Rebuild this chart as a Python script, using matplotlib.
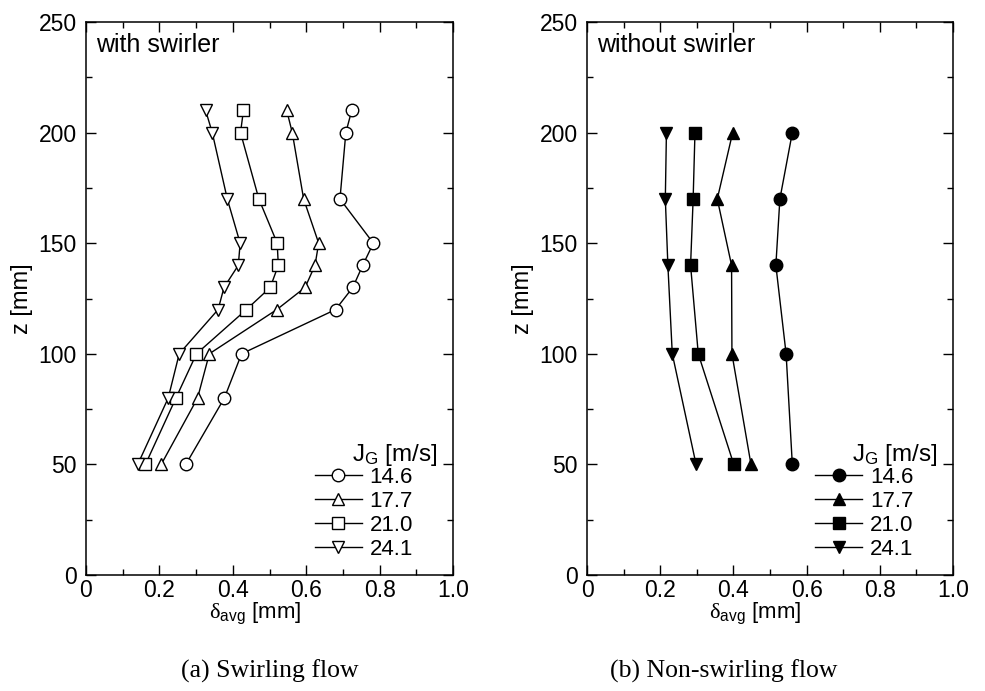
import numpy as np
import matplotlib
matplotlib.use("Agg")
import matplotlib.pyplot as plt
from matplotlib.ticker import MultipleLocator

plt.rcParams['font.family'] = ['Liberation Sans', 'DejaVu Sans']
plt.rcParams['mathtext.fontset'] = 'custom'
plt.rcParams['mathtext.rm'] = 'Liberation Serif'
plt.rcParams['mathtext.sf'] = 'Liberation Sans'
plt.rcParams['mathtext.default'] = 'rm'

# gas superficial velocities J_G [m/s]
jg_labels = ["14.6", "17.7", "21.0", "24.1"]
markers = ["o", "^", "s", "v"]

# with swirler: axial positions z [mm] and average film thickness [mm]
z_sw = [50, 80, 100, 120, 130, 140, 150, 170, 200, 210]
d_sw_146 = [0.272, 0.377, 0.424, 0.680, 0.727, 0.754, 0.783, 0.692, 0.708, 0.724]
d_sw_177 = [0.205, 0.304, 0.336, 0.520, 0.597, 0.624, 0.634, 0.593, 0.562, 0.547]
d_sw_210 = [0.162, 0.245, 0.301, 0.437, 0.502, 0.524, 0.521, 0.471, 0.421, 0.429]
d_sw_241 = [0.141, 0.224, 0.254, 0.360, 0.376, 0.415, 0.420, 0.385, 0.344, 0.326]

# without swirler
z_ns = [50, 100, 140, 170, 200]
d_ns_146 = [0.561, 0.544, 0.516, 0.527, 0.561]
d_ns_177 = [0.448, 0.396, 0.395, 0.356, 0.398]
d_ns_210 = [0.401, 0.304, 0.283, 0.290, 0.295]
d_ns_241 = [0.298, 0.233, 0.221, 0.214, 0.217]

sw = [d_sw_146, d_sw_177, d_sw_210, d_sw_241]
ns = [d_ns_146, d_ns_177, d_ns_210, d_ns_241]

fig = plt.figure(figsize=(9.85, 6.91), dpi=100)
ax1 = fig.add_axes([86/985, 1-575/691, 367/985, 553/691])
ax2 = fig.add_axes([587/985, 1-575/691, 366/985, 553/691])


def setup(ax, title):
    ax.set_xlim(0, 1.0)
    ax.set_ylim(0, 250)
    ax.xaxis.set_minor_locator(MultipleLocator(0.1))
    ax.yaxis.set_major_locator(MultipleLocator(50))
    ax.yaxis.set_minor_locator(MultipleLocator(25))
    ax.set_xticks([0, 0.2, 0.4, 0.6, 0.8, 1.0])
    ax.set_xticklabels(["0", "0.2", "0.4", "0.6", "0.8", "1.0"])
    ax.tick_params(which='both', direction='in', top=True, right=True, width=1)
    ax.tick_params(which='major', length=7, labelsize=16.5)
    ax.tick_params(axis='y', which='major', pad=6.5)
    ax.tick_params(axis='x', which='major', pad=3)
    ax.tick_params(which='minor', length=4)
    for s in ax.spines.values():
        s.set_linewidth(1.1)
    ax.set_xlabel(r'$\delta_{\mathsf{avg}}$ [mm]', fontsize=16, labelpad=-1)
    ax.xaxis.get_label().set_x(0.46)
    ax.set_ylabel('z [mm]', fontsize=17)
    ax.yaxis.set_label_coords(-0.145, 0.5)
    ax.text(0.027, 0.98, title, transform=ax.transAxes, ha='left', va='top', fontsize=18)


setup(ax1, "with swirler")
setup(ax2, "without swirler")

for d, m, lab in zip(sw, markers, jg_labels):
    ax1.plot(d, z_sw, color='black', lw=1, marker=m, ms=9, mfc='white', mec='black',
             mew=1, label=lab)
for d, m, lab in zip(ns, markers, jg_labels):
    ax2.plot(d, z_ns, color='black', lw=1, marker=m, ms=9, mfc='black', mec='black',
             label=lab)

for ax in (ax1, ax2):
    ax.legend(loc='upper left', bbox_to_anchor=(0.624, 0.195), frameon=False,
              fontsize=16, handlelength=2.1, handletextpad=0.36, labelspacing=0.13,
              borderpad=0, borderaxespad=0)
    ax.text(0.958, 0.217, r'J$_{\mathsf{G}}$ [m/s]', transform=ax.transAxes,
            ha='right', va='center', fontsize=17.5)

fig.text(270/985, 1-671/691, "(a) Swirling flow", ha='center', va='center',
         fontsize=18.5, family='Liberation Serif')
fig.text(724/985, 1-671/691, "(b) Non-swirling flow", ha='center', va='center',
         fontsize=18.5, family='Liberation Serif')

fig.savefig("out.png", dpi=100)
